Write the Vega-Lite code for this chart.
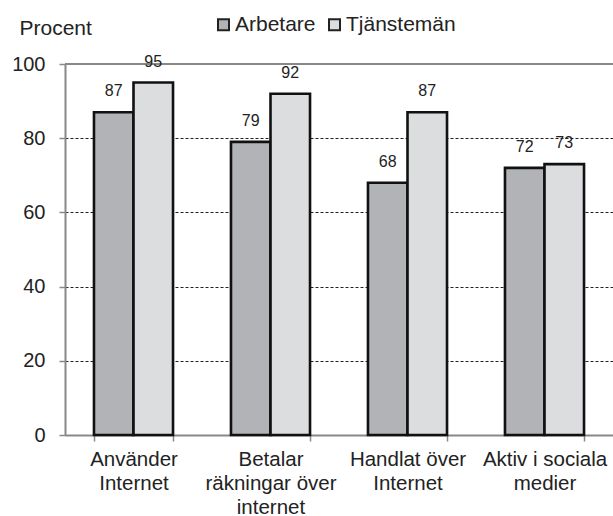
{
  "$schema": "https://vega.github.io/schema/vega-lite/v6.json",
  "autosize": "none",
  "width": 548,
  "height": 371,
  "padding": {"left": 65, "top": 64, "right": 0, "bottom": 81},
  "background": "white",
  "config": {
    "font": "Liberation Sans",
    "view": {"stroke": null},
    "text": {"font": "Liberation Sans"}
  },
  "data": {
    "values": [
      {"cat": "Använder|Internet", "group": "Arbetare", "value": 87},
      {"cat": "Använder|Internet", "group": "Tjänstemän", "value": 95},
      {"cat": "Betalar|räkningar över|internet", "group": "Arbetare", "value": 79},
      {"cat": "Betalar|räkningar över|internet", "group": "Tjänstemän", "value": 92},
      {"cat": "Handlat över|Internet", "group": "Arbetare", "value": 68},
      {"cat": "Handlat över|Internet", "group": "Tjänstemän", "value": 87},
      {"cat": "Aktiv i sociala|medier", "group": "Arbetare", "value": 72},
      {"cat": "Aktiv i sociala|medier", "group": "Tjänstemän", "value": 73}
    ]
  },
  "encoding": {
    "x": {
      "field": "cat", "type": "nominal", "sort": null,
      "scale": {"paddingInner": 0.423, "paddingOuter": 0.2115},
      "axis": {
        "title": null,
        "labelAngle": 0,
        "labelExpr": "split(datum.label, '|')",
        "labelFontSize": 20.5,
        "labelLineHeight": 24,
        "labelColor": "#222",
        "labelPadding": 8,
        "labelOverlap": false,
        "labelFlush": false,
        "labelBound": false,
        "tickBand": "extent",
        "tickSize": 6,
        "tickColor": "#888",
        "tickWidth": 1.5,
        "domainColor": "#888",
        "domainWidth": 2,
        "grid": false
      }
    },
    "xOffset": {"field": "group", "type": "nominal", "scale": {"paddingInner": 0, "paddingOuter": 0}},
    "y": {
      "field": "value", "type": "quantitative",
      "scale": {"domain": [0, 100], "nice": false},
      "axis": {
        "title": "Procent",
        "titleAngle": 0,
        "titleX": -46,
        "titleY": -30,
        "titleAlign": "left",
        "titleBaseline": "alphabetic",
        "titleFontSize": 21,
        "titleFontWeight": "normal",
        "titleColor": "#222",
        "values": [0, 20, 40, 60, 80, 100],
        "labelFontSize": 20,
        "labelColor": "#222",
        "labelPadding": 14,
        "tickSize": 6,
        "tickColor": "#888",
        "tickWidth": 1.5,
        "domainColor": "#888",
        "domainWidth": 2,
        "grid": true,
        "gridColor": "#222",
        "gridDash": [3, 2],
        "gridWidth": 1
      }
    }
  },
  "layer": [
    {
      "mark": {"type": "rule", "color": "#888", "strokeWidth": 2},
      "encoding": {"y": {"datum": 100}, "x": null, "xOffset": null}
    },
    {
      "mark": {"type": "bar", "stroke": "#111", "strokeWidth": 2.6},
      "encoding": {
        "color": {
          "field": "group", "type": "nominal",
          "scale": {"domain": ["Arbetare", "Tjänstemän"], "range": ["#b2b3b7", "#dcdddf"]},
          "legend": {
            "title": null,
            "orient": "none",
            "direction": "horizontal",
            "legendX": 148,
            "legendY": -50,
            "symbolType": "square",
            "symbolSize": 121,
            "symbolStrokeColor": "#222",
            "symbolStrokeWidth": 2,
            "labelFontSize": 21,
            "labelColor": "#222",
            "labelOffset": 1,
            "columnPadding": 8
          }
        }
      }
    },
    {
      "mark": {"type": "text", "baseline": "middle", "dy": -21, "fontSize": 16, "color": "#222"},
      "encoding": {"text": {"field": "value", "type": "quantitative"}}
    }
  ]
}
